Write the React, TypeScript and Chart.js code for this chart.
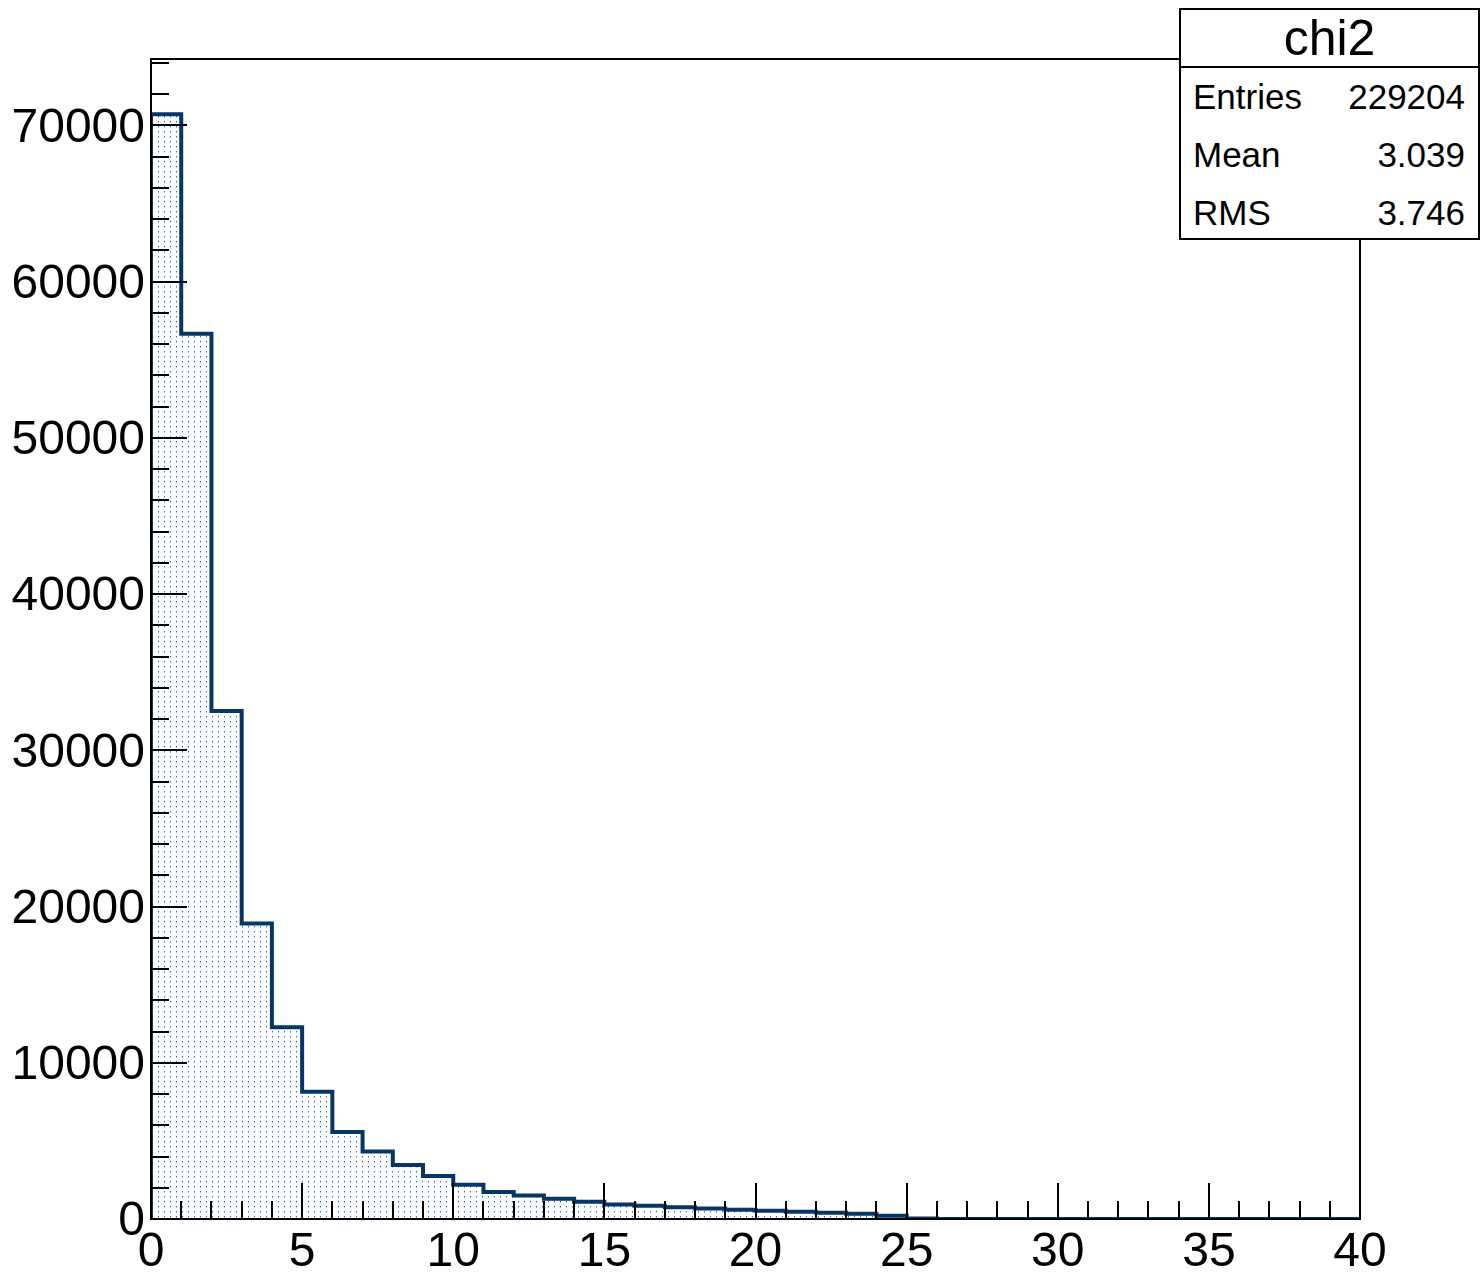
import React, { useEffect, useRef } from 'react';
import { Chart, registerables } from 'chart.js';

Chart.register(...registerables);

// ---- data ----
const X_MIN = 0;
const X_MAX = 40;
const BIN_WIDTH = 1;
const counts = [
  70713, 56668, 32511, 18913, 12280, 8142, 5564, 4317, 3454, 2750,
  2194, 1727, 1509, 1298, 1106, 934, 851, 755, 678, 595,
  531, 467, 403, 339, 211, 30, 0, 0, 0, 0,
  0, 0, 0, 0, 0, 0, 0, 0, 0, 0,
];
const Y_MAX = 74250;
const xTickValues = [0, 5, 10, 15, 20, 25, 30, 35, 40];
const yTickValues = [0, 10000, 20000, 30000, 40000, 50000, 60000, 70000];
const X_MINOR = 1;
const Y_MINOR = 2000;

const statsTitle = 'chi2';
const statsLabels = ['Entries', 'Mean', 'RMS'];
const statsValues = ['229204', '3.039', '3.746'];

const FONT = "'Liberation Sans', Arial, Helvetica, sans-serif";

function makePattern(): CanvasPattern | string {
  const c = document.createElement('canvas');
  c.width = 6;
  c.height = 5;
  const g = c.getContext('2d');
  if (!g) return 'rgba(60,130,215,0.3)';
  g.fillStyle = '#ffffff';
  g.fillRect(0, 0, 6, 5);
  g.fillStyle = '#1a6ad8';
  g.fillRect(2, 1, 1, 1);
  g.fillStyle = '#9cc0ee';
  g.fillRect(2, 2, 1, 1);
  const p = g.createPattern(c, 'repeat');
  return p || 'rgba(60,130,215,0.3)';
}

const isMajor = (v: number, majors: number[]) => majors.some((m) => Math.abs(m - v) < 1e-9);

const frameTicksPlugin = {
  id: 'rootFrameTicks',
  afterDatasetsDraw(chart: any) {
    const { ctx, chartArea: a, scales } = chart;
    const xs = scales.x;
    const ys = scales.y;
    ctx.save();
    ctx.strokeStyle = '#000';
    ctx.lineWidth = 2;
    ctx.beginPath();
    for (let v = X_MIN; v <= X_MAX + 1e-9; v += X_MINOR) {
      const px = Math.round(xs.getPixelForValue(v));
      const len = isMajor(v, xTickValues) ? 36 : 18;
      ctx.moveTo(px, a.bottom);
      ctx.lineTo(px, a.bottom - len);
    }
    for (let v = 0; v <= Y_MAX + 1e-9; v += Y_MINOR) {
      const py = Math.round(ys.getPixelForValue(v));
      const len = isMajor(v, yTickValues) ? 36 : 18;
      ctx.moveTo(a.left, py);
      ctx.lineTo(a.left + len, py);
    }
    ctx.stroke();
    ctx.strokeRect(a.left, a.top, a.right - a.left, a.bottom - a.top);
    ctx.restore();
  },
};

export default function App() {
  const canvasRef = useRef<HTMLCanvasElement | null>(null);

  useEffect(() => {
    document.body.style.margin = '0';
    const canvas = canvasRef.current;
    if (!canvas) return;

    const points: { x: number; y: number }[] = [{ x: X_MIN, y: 0 }];
    counts.forEach((c, i) => points.push({ x: X_MIN + i * BIN_WIDTH, y: c }));
    points.push({ x: X_MAX, y: counts[counts.length - 1] });
    points.push({ x: X_MAX, y: 0 });

    const chart = new Chart(canvas, {
      type: 'line',
      data: {
        datasets: [
          {
            data: points,
            stepped: true,
            borderColor: '#063567',
            borderWidth: 4,
            borderJoinStyle: 'miter',
            backgroundColor: makePattern() as any,
            fill: 'origin',
            pointRadius: 0,
            tension: 0,
          } as any,
        ],
      },
      options: {
        animation: false,
        responsive: false,
        devicePixelRatio: 1,
        parsing: false as any,
        layout: { padding: { top: 59, right: 120, left: 0, bottom: 0 } },
        plugins: { legend: { display: false }, tooltip: { enabled: false } },
        scales: {
          x: {
            type: 'linear',
            min: X_MIN,
            max: X_MAX,
            grid: { display: false, drawTicks: false },
            border: { display: false },
            afterBuildTicks: (s: any) => {
              s.ticks = xTickValues.map((v) => ({ value: v }));
            },
            ticks: {
              autoSkip: false,
              color: '#000',
              padding: 5,
              maxRotation: 0,
              font: { family: FONT, size: 48, lineHeight: 1.2 },
              callback: (v: any) => String(v),
            },
            afterFit: (s: any) => {
              s.height = 55;
            },
          },
          y: {
            type: 'linear',
            min: 0,
            max: Y_MAX,
            grid: { display: false, drawTicks: false },
            border: { display: false },
            afterBuildTicks: (s: any) => {
              s.ticks = yTickValues.map((v) => ({ value: v }));
            },
            ticks: {
              autoSkip: false,
              color: '#000',
              padding: 6,
              labelOffset: 3,
              font: { family: FONT, size: 48, lineHeight: 1.2 },
              callback: (v: any) => String(v),
            },
            afterFit: (s: any) => {
              s.width = 151;
            },
          },
        },
      },
      plugins: [frameTicksPlugin],
    });

    return () => chart.destroy();
  }, []);

  const rowTops = [67, 125, 183];

  return (
    <div style={{ position: 'relative', width: 1480, height: 1274, background: '#fff', overflow: 'hidden' }}>
      <canvas ref={canvasRef} width={1480} height={1274} style={{ display: 'block' }} />
      <div
        style={{
          position: 'absolute',
          left: 1179,
          top: 8,
          width: 301,
          height: 232,
          boxSizing: 'border-box',
          border: '2px solid #000',
          background: '#fff',
          fontFamily: FONT,
          color: '#000',
        }}
      >
        <div
          style={{
            position: 'absolute',
            left: 0,
            right: 0,
            top: 0,
            height: 56,
            borderBottom: '2px solid #000',
            textAlign: 'center',
            fontSize: 50,
            lineHeight: '56px',
          }}
        >
          {statsTitle}
        </div>
        {statsLabels.map((lab, i) => (
          <div
            key={lab}
            style={{
              position: 'absolute',
              left: 12,
              right: 13,
              top: rowTops[i],
              height: 40,
              lineHeight: '40px',
              fontSize: 35,
              display: 'flex',
              justifyContent: 'space-between',
            }}
          >
            <span>{lab}</span>
            <span>{statsValues[i]}</span>
          </div>
        ))}
      </div>
    </div>
  );
}
